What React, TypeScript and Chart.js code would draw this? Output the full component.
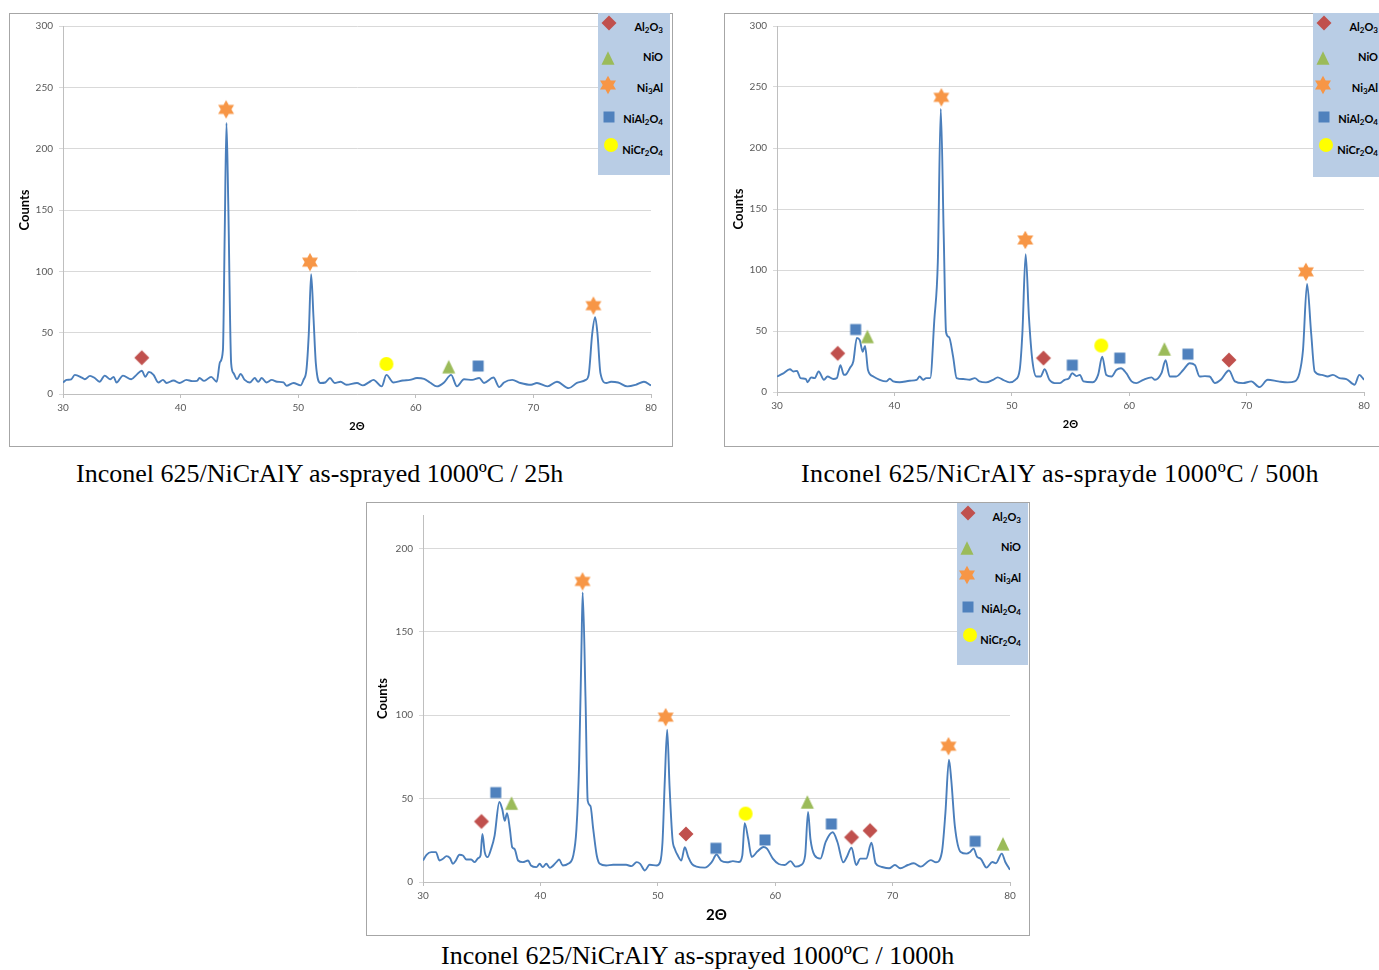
import React, { useEffect, useRef } from "react";
import { Chart, registerables } from "chart.js";

Chart.register(...registerables);
Chart.defaults.font.family = "Lato, 'Open Sans', sans-serif";

// ---------- shared axis ticks ----------
const xTicks = [30, 40, 50, 60, 70, 80];
const yTicks300 = [0, 50, 100, 150, 200, 250, 300];
const yTicks200 = [0, 50, 100, 150, 200];

const phaseNames = ["Al2O3", "NiO", "Ni3Al", "NiAl2O4", "NiCr2O4"];

// ---------- Panel 1 : 1000ºC / 25h ----------
const p1Angle = [30.0, 30.3, 30.7, 31.0, 31.6, 31.85, 32.3, 32.7, 33.1, 33.55, 34.0, 34.3, 34.55, 35.1, 35.8, 36.25, 36.7, 37.0, 37.3, 37.7, 38.1, 38.5, 38.8, 39.4, 39.9, 40.5, 41.0, 41.4, 41.6, 42.0, 42.6, 43.07, 43.35, 43.6, 43.75, 43.9, 44.05, 44.3, 44.5, 44.8, 45.1, 45.45, 45.9, 46.3, 46.6, 46.9, 47.3, 47.75, 48.2, 48.75, 49.0, 49.6, 50.2, 50.45, 50.7, 50.9, 51.1, 51.3, 51.5, 51.9, 52.3, 52.7, 53.1, 53.6, 54.1, 55.0, 55.5, 56.0, 56.4, 57.1, 57.5, 58.1, 58.9, 59.5, 60.1, 60.7, 61.2, 61.8, 62.4, 63.0, 63.5, 64.1, 64.8, 65.4, 65.8, 66.6, 67.1, 67.5, 68.2, 68.9, 69.8, 70.3, 71.2, 72.0, 73.0, 73.7, 74.45, 74.7, 75.0, 75.25, 75.45, 75.7, 76.2, 76.6, 77.2, 78.0, 78.7, 79.4, 80.0];
const p1Counts = [9.4, 11.5, 12, 15.6, 13.4, 12, 14.8, 13, 10, 15, 12, 14, 9.4, 15, 12, 15.6, 19, 14, 18, 15.6, 9.4, 11.5, 9, 11, 9, 11.5, 10.5, 10.7, 13, 10.7, 14, 10, 26, 36, 130, 221, 157, 25, 17, 12, 16.4, 11.5, 9.4, 13, 10, 13, 9.4, 11.5, 10, 9.4, 6.7, 9, 7, 11.5, 19.6, 49, 97.6, 62.6, 25, 9, 9.4, 13, 9, 10, 7.5, 9, 7, 9.5, 11.5, 6.2, 15.6, 9.4, 11, 11.5, 13, 12.4, 9.4, 6.2, 9.4, 15.6, 6.2, 12, 11.5, 13, 9, 13.4, 5.6, 9.4, 11.5, 9, 7.5, 9, 6.2, 10, 4.8, 9, 11.5, 15.6, 49, 62.6, 49, 17, 9, 10, 9.4, 6.2, 7.5, 10, 7];
const p1Al2O3 = [[36.7, 29.6]];
const p1NiO = [[62.8, 22.3]];
const p1Ni3Al = [[43.87, 232], [51.0, 107.5], [75.1, 72]];
const p1NiAl2O4 = [[65.3, 22.8]];
const p1NiCr2O4 = [[57.5, 24.5]];

// ---------- Panel 2 : 1000ºC / 500h ----------
const p2Angle = [30.0, 30.5, 31.1, 31.4, 31.7, 32.0, 32.45, 32.6, 32.9, 33.2, 33.55, 34.0, 34.3, 34.8, 35.1, 35.4, 35.7, 35.9, 36.2, 36.5, 36.8, 37.05, 37.3, 37.5, 37.75, 38.2, 38.75, 39.3, 39.6, 39.9, 40.45, 41.3, 41.9, 42.15, 42.45, 42.7, 43.05, 43.4, 43.7, 43.95, 44.2, 44.4, 44.65, 45.0, 45.3, 45.85, 46.4, 46.85, 47.25, 47.8, 48.4, 48.8, 49.25, 49.8, 50.3, 50.67, 50.9, 51.18, 51.46, 51.75, 52.1, 52.45, 52.8, 53.2, 53.65, 54.1, 54.5, 54.85, 55.15, 55.5, 55.8, 56.1, 56.9, 57.35, 57.7, 58.05, 58.5, 58.9, 59.3, 59.75, 60.2, 60.6, 61.2, 61.9, 62.2, 62.75, 63.1, 63.45, 64.0, 64.6, 65.15, 65.6, 66.0, 66.45, 66.85, 67.3, 67.8, 68.5, 69.0, 69.7, 70.4, 71.1, 71.8, 72.7, 73.5, 74.1, 74.5, 74.8, 75.15, 75.5, 75.8, 76.4, 76.9, 77.35, 77.9, 78.5, 79.2, 79.6, 80.0];
const p2Counts = [12.7, 15, 18.7, 16.8, 17.3, 11.4, 10.8, 8, 12, 11.4, 16.8, 10, 12.7, 10.6, 11.4, 22, 14, 14.6, 19.5, 25, 44.4, 42.5, 33, 37.7, 18, 12.7, 10, 8.7, 10.8, 8.7, 8, 9.2, 10, 12.7, 10, 11.4, 11.4, 59, 107, 232, 129, 49, 45, 29, 11.4, 10.6, 10, 11.4, 8.7, 7.9, 10, 12, 10, 7.9, 10, 18, 48, 113, 61.5, 26, 12.7, 12.7, 18.7, 10, 7.3, 7.3, 10, 11, 15.4, 13, 14, 8.7, 8, 14, 29, 14, 12.7, 18, 19.5, 15.4, 8.7, 7.3, 10, 12, 10, 15.4, 26, 12.7, 12.7, 18, 23.6, 22, 12.7, 13, 12.7, 7.3, 10, 17.6, 8.7, 7.3, 8.7, 4, 10, 8.7, 7.9, 8.7, 15.4, 34, 88.6, 48, 16.8, 14, 12.7, 14, 11.4, 10.6, 6, 14, 10];
const p2Al2O3 = [[35.17, 31.7], [52.7, 27.8], [68.5, 26.2]];
const p2NiO = [[37.7, 45.5], [63.0, 35.3]];
const p2Ni3Al = [[44.0, 241.5], [51.15, 124.6], [75.05, 98.5]];
const p2NiAl2O4 = [[36.7, 51.2], [55.15, 22], [59.2, 27.8], [65.0, 31]];
const p2NiCr2O4 = [[57.62, 38.1]];

// ---------- Panel 3 : 1000ºC / 1000h ----------
const p3Angle = [30.0, 30.3, 30.7, 31.1, 31.4, 31.7, 32.0, 32.3, 32.55, 32.8, 33.1, 33.4, 33.7, 34.1, 34.4, 34.7, 34.9, 35.06, 35.26, 35.5, 35.8, 36.1, 36.5, 36.75, 36.96, 37.16, 37.4, 37.6, 37.8, 38.1, 38.5, 38.95, 39.2, 39.66, 39.94, 40.2, 40.5, 40.8, 41.36, 41.6, 41.9, 42.36, 42.8, 43.07, 43.3, 43.5, 43.6, 43.84, 44.03, 44.26, 44.5, 44.8, 45.06, 45.6, 46.2, 46.76, 47.3, 47.76, 48.2, 48.5, 48.9, 49.3, 49.9, 50.2, 50.4, 50.6, 50.8, 51.0, 51.25, 51.45, 51.7, 52.0, 52.3, 52.6, 52.9, 53.3, 54.0, 54.6, 55.0, 55.4, 55.9, 56.4, 56.9, 57.2, 57.4, 57.7, 58.0, 58.5, 59.0, 59.3, 59.8, 60.3, 60.8, 61.3, 61.75, 62.2, 62.55, 62.8, 63.0, 63.35, 63.85, 64.3, 64.9, 65.3, 65.8, 66.1, 66.5, 66.9, 67.25, 67.75, 68.2, 68.55, 69.0, 69.7, 70.2, 70.65, 71.3, 71.8, 72.4, 73.25, 73.7, 74.2, 74.5, 74.8, 75.0, 75.3, 75.8, 76.3, 76.6, 76.9, 77.2, 77.5, 78.0, 78.5, 78.8, 79.3, 79.6, 80.0];
const p3Counts = [12.9, 16.3, 17.9, 17.9, 12.9, 13.9, 15.5, 14.3, 10.9, 12.9, 16.3, 15.9, 13.5, 13.5, 11.9, 14.3, 15.9, 28.8, 17.9, 14.9, 19.8, 27.8, 48, 43.7, 36.7, 41.3, 31.7, 20.8, 19.8, 12.9, 11.9, 12.9, 9.9, 8.9, 10.9, 8.9, 10.9, 8.5, 11.9, 13.5, 9.9, 10.9, 15.9, 31.7, 71.4, 141, 173.6, 111, 48.6, 45.6, 31.7, 15.9, 10.9, 9.9, 10.3, 10.3, 10.3, 9.5, 11.9, 10.9, 6.9, 10.3, 9.9, 11.9, 23.8, 61.5, 91.3, 57.5, 25.8, 19.8, 15.9, 12.9, 20.8, 14.9, 10.9, 9.2, 8.6, 12, 16.5, 12.7, 11.8, 12.5, 12, 16, 35.3, 25.9, 15, 18.4, 21, 20, 14, 10.8, 10.2, 12.5, 9.2, 10.2, 16, 42, 25.9, 16, 14, 24, 29.8, 24, 11.8, 15, 20.6, 10.2, 14, 14, 23.5, 11.2, 9.2, 8.2, 10.2, 8.2, 10.2, 11.2, 9.2, 13.1, 11.8, 18, 41.6, 73.3, 61, 33.7, 18, 17, 18, 20, 15, 14, 8.6, 12, 11.2, 17, 12, 7.3];
const p3Al2O3 = [[34.98, 36.3], [52.4, 28.8], [66.5, 26.8], [68.08, 30.8]];
const p3NiO = [[37.54, 47.3], [62.74, 48], [79.4, 22.9]];
const p3Ni3Al = [[43.59, 180.2], [50.67, 98.8], [74.76, 81.4]];
const p3NiAl2O4 = [[36.2, 53.6], [54.95, 20.2], [59.13, 25.2], [64.78, 34.8], [77.03, 24.4]];
const p3NiCr2O4 = [[57.48, 41]];

// ---------- symbols ----------
type Kind = "diamond" | "triangle" | "star" | "square" | "circle";
const phaseKind: Kind[] = ["diamond", "triangle", "star", "square", "circle"];
const kindColor: Record<Kind, string> = {
  diamond: "#c0504d",
  triangle: "#9bbb59",
  star: "#f79646",
  square: "#4f81bd",
  circle: "#ffff00",
};

function shapePoints(kind: Kind): number[][] {
  if (kind === "diamond") return [[10, 2.5], [17.5, 10], [10, 17.5], [2.5, 10]];
  if (kind === "triangle") return [[10, 3.3], [16.5, 16.7], [3.5, 16.7]];
  if (kind === "square") return [[4.5, 4.5], [15.5, 4.5], [15.5, 15.5], [4.5, 15.5]];
  // six-pointed star
  const R = 9.2;
  const r = R / Math.sqrt(3);
  const pts: number[][] = [];
  for (let k = 0; k < 12; k++) {
    const a = ((-90 + 30 * k) * Math.PI) / 180;
    const rad = k % 2 === 0 ? R : r;
    pts.push([10 + rad * Math.cos(a), 10 + rad * Math.sin(a)]);
  }
  return pts;
}

const canvasCache: Record<string, HTMLCanvasElement> = {};
function symbolCanvas(kind: Kind): HTMLCanvasElement {
  if (canvasCache[kind]) return canvasCache[kind];
  const c = document.createElement("canvas");
  c.width = 20;
  c.height = 20;
  const ctx = c.getContext("2d")!;
  ctx.fillStyle = kindColor[kind];
  ctx.beginPath();
  if (kind === "circle") {
    ctx.arc(10, 10, 7, 0, Math.PI * 2);
  } else {
    const pts = shapePoints(kind);
    ctx.moveTo(pts[0][0], pts[0][1]);
    for (let i = 1; i < pts.length; i++) ctx.lineTo(pts[i][0], pts[i][1]);
    ctx.closePath();
  }
  ctx.fill();
  canvasCache[kind] = c;
  return c;
}

function SymbolSvg({ kind }: { kind: Kind }) {
  if (kind === "circle") return <circle cx={10} cy={10} r={7} fill={kindColor[kind]} />;
  const pts = shapePoints(kind).map((p) => p.join(",")).join(" ");
  return <polygon points={pts} fill={kindColor[kind]} />;
}

function Formula({ text }: { text: string }) {
  const parts = text.split(/(\d+)/).filter((s) => s.length > 0);
  return (
    <>
      {parts.map((p, i) =>
        /^\d+$/.test(p) ? (
          <sub key={i} style={{ fontSize: "8px", verticalAlign: "-2px", lineHeight: 0 }}>
            {p}
          </sub>
        ) : (
          <span key={i}>{p}</span>
        )
      )}
    </>
  );
}

// legend row geometry (relative to legend box)
const legendSym = [
  [11, 9.5],
  [10, 44.5],
  [9.5, 71.5],
  [10.5, 103.5],
  [12.5, 131.5],
];
const legendText = [13.5, 44, 74.5, 105.5, 136.5];

function Legend({ left, top, width, height }: { left: number; top: number; width: number; height: number }) {
  return (
    <div style={{ position: "absolute", left, top, width, height, background: "#b9cde5" }}>
      {phaseNames.map((name, i) => (
        <React.Fragment key={name}>
          <svg
            width={20}
            height={20}
            style={{ position: "absolute", left: legendSym[i][0] - 10, top: legendSym[i][1] - 10 }}
          >
            <SymbolSvg kind={phaseKind[i]} />
          </svg>
          <div
            style={{
              position: "absolute",
              right: 7,
              top: legendText[i] - 8,
              lineHeight: "16px",
              fontFamily: "Lato, sans-serif",
              fontWeight: 700,
              fontSize: "11px",
              color: "#000",
              whiteSpace: "nowrap",
            }}
          >
            <Formula text={name} />
          </div>
        </React.Fragment>
      ))}
    </div>
  );
}

type PanelCfg = {
  box: { left: number; top: number; right: number; bottom: number };
  area: { left: number; top: number; right: number; bottom: number };
  yMax: number;
  yTicks: number[];
  angle: number[];
  counts: number[];
  markers: number[][][];
  yTitleX: number;
  xTitleY: number;
  xTitleSize: number;
  legend: { left: number; top: number; width: number; height: number };
};

const panels: PanelCfg[] = [
  {
    box: { left: 9, top: 13, right: 672, bottom: 446 },
    area: { left: 63, top: 25, right: 651, bottom: 394 },
    yMax: 300,
    yTicks: yTicks300,
    angle: p1Angle,
    counts: p1Counts,
    markers: [p1Al2O3, p1NiO, p1Ni3Al, p1NiAl2O4, p1NiCr2O4],
    yTitleX: 25,
    xTitleY: 426,
    xTitleSize: 11,
    legend: { left: 598, top: 13, width: 72, height: 162 },
  },
  {
    box: { left: 724, top: 13, right: 1390, bottom: 446 },
    area: { left: 777, top: 23, right: 1364, bottom: 392 },
    yMax: 300,
    yTicks: yTicks300,
    angle: p2Angle,
    counts: p2Counts,
    markers: [p2Al2O3, p2NiO, p2Ni3Al, p2NiAl2O4, p2NiCr2O4],
    yTitleX: 739,
    xTitleY: 424,
    xTitleSize: 11,
    legend: { left: 1313, top: 13, width: 72, height: 164 },
  },
  {
    box: { left: 366, top: 502, right: 1029, bottom: 935 },
    area: { left: 423, top: 512, right: 1010, bottom: 882 },
    yMax: 220,
    yTicks: yTicks200,
    angle: p3Angle,
    counts: p3Counts,
    markers: [p3Al2O3, p3NiO, p3Ni3Al, p3NiAl2O4, p3NiCr2O4],
    yTitleX: 383,
    xTitleY: 915.5,
    xTitleSize: 15,
    legend: { left: 957, top: 503, width: 71, height: 162 },
  },
];

function Panel({ cfg }: { cfg: PanelCfg }) {
  const ref = useRef<HTMLCanvasElement>(null);
  const ox = cfg.box.left + 1;
  const oy = cfg.box.top + 1;
  const W = cfg.box.right - cfg.box.left - 1;
  const H = cfg.box.bottom - cfg.box.top - 1;

  useEffect(() => {
    if (!ref.current) return;
    const aL = cfg.area.left - ox;
    const aR = cfg.area.right - ox;
    const aT = cfg.area.top - oy;
    const aB = cfg.area.bottom - oy;
    const yTitleSize = 13;
    const yTitlePad = cfg.yTitleX - ox - (yTitleSize * 1.2) / 2;
    const xTitlePad = H - (cfg.xTitleY - oy) - (cfg.xTitleSize * 1.2) / 2;

    const markerSets = cfg.markers.map((pts, i) => ({
      type: "scatter" as const,
      label: phaseNames[i],
      data: pts.map((p) => ({ x: p[0], y: p[1] })),
      pointStyle: symbolCanvas(phaseKind[i]),
      pointRadius: 8,
      showLine: false,
      clip: false as const,
      order: 0,
    }));

    const line = {
      type: "scatter" as const,
      label: "XRD",
      data: cfg.angle.map((a, i) => ({ x: a, y: cfg.counts[i] })),
      showLine: true,
      borderColor: "#4a7ebb",
      borderWidth: 1.9,
      pointRadius: 0,
      cubicInterpolationMode: "monotone" as const,
      order: 10,
    };

    const chart = new Chart(ref.current, {
      type: "scatter",
      data: { datasets: [...markerSets, line] as any },
      options: {
        animation: false,
        responsive: false,
        events: [],
        layout: { padding: { left: 0, top: aT, right: W - aR, bottom: 0 } },
        plugins: { legend: { display: false }, tooltip: { enabled: false } },
        scales: {
          x: {
            type: "linear",
            min: 30,
            max: 80,
            afterBuildTicks: (s: any) => {
              s.ticks = xTicks.map((v) => ({ value: v }));
            },
            afterFit: (s: any) => {
              s.height = H - aB;
            },
            grid: { drawOnChartArea: false, tickLength: 4, color: "#bfbfbf" },
            border: { color: "#bfbfbf" },
            ticks: { font: { size: 10 }, color: "#595959", padding: 4, maxRotation: 0, autoSkip: false },
            title: {
              display: true,
              text: "2Θ",
              color: "#000",
              font: { size: cfg.xTitleSize, weight: "bold" },
              padding: { top: 0, bottom: xTitlePad },
            },
          },
          y: {
            type: "linear",
            min: 0,
            max: cfg.yMax,
            afterBuildTicks: (s: any) => {
              s.ticks = cfg.yTicks.map((v) => ({ value: v }));
            },
            afterFit: (s: any) => {
              s.width = aL;
            },
            grid: { color: "#d9d9d9", tickLength: 4 },
            border: { color: "#bfbfbf" },
            ticks: { font: { size: 10 }, color: "#595959", padding: 6 },
            title: {
              display: true,
              text: "Counts",
              color: "#000",
              font: { size: yTitleSize, weight: "bold" },
              padding: { top: yTitlePad, bottom: 0 },
            },
          },
        },
      } as any,
    });
    return () => chart.destroy();
  }, []);

  return (
    <>
      <div
        style={{
          position: "absolute",
          left: cfg.box.left,
          top: cfg.box.top,
          width: W + 2,
          height: H + 2,
          boxSizing: "border-box",
          border: "1px solid #a6a6a6",
          background: "#fff",
        }}
      >
        <canvas ref={ref} width={W} height={H} style={{ display: "block", width: W, height: H }} />
      </div>
      <Legend {...cfg.legend} />
    </>
  );
}

const captions = [
  { text: "Inconel 625/NiCrAlY as-sprayed 1000ºC / 25h", left: 76, top: 459, spacing: 0 },
  { text: "Inconel 625/NiCrAlY as-sprayde 1000ºC / 500h", left: 801, top: 459, spacing: 0.4 },
  { text: "Inconel 625/NiCrAlY as-sprayed 1000ºC / 1000h", left: 441, top: 941, spacing: 0 },
];

export default function App() {
  return (
    <div
      style={{
        position: "absolute",
        left: 0,
        top: 0,
        width: 1379,
        height: 970,
        overflow: "hidden",
        background: "#fff",
      }}
    >
      {panels.map((p, i) => (
        <Panel key={i} cfg={p} />
      ))}
      {captions.map((c, i) => (
        <div
          key={i}
          style={{
            position: "absolute",
            left: c.left,
            top: c.top,
            fontFamily: "'Liberation Serif', 'Times New Roman', serif",
            fontSize: "26px",
            lineHeight: "30px",
            letterSpacing: `${c.spacing}px`,
            color: "#000",
            whiteSpace: "nowrap",
          }}
        >
          {c.text}
        </div>
      ))}
    </div>
  );
}
